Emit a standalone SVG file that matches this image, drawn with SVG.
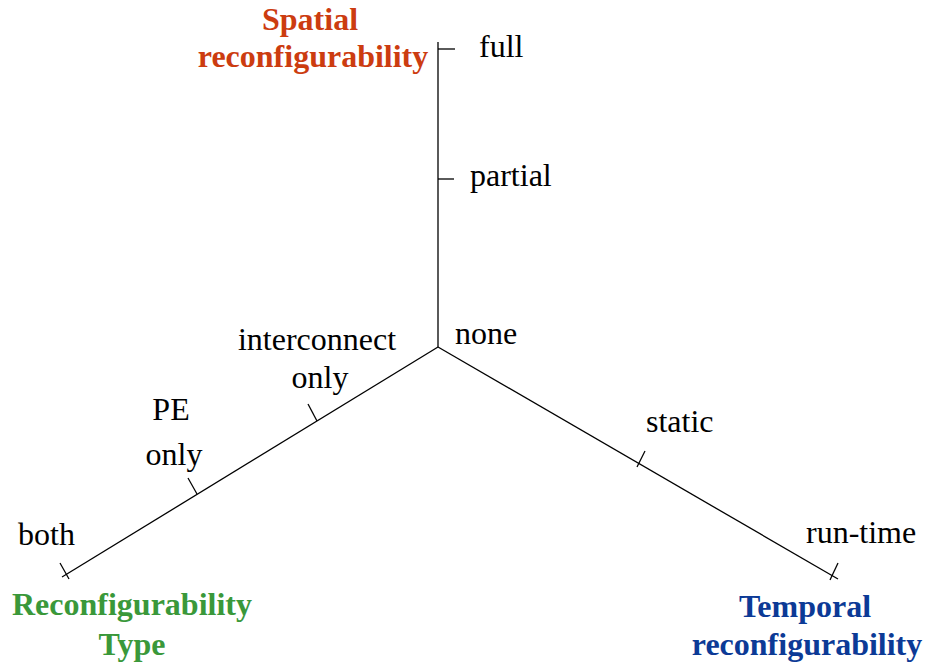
<svg xmlns="http://www.w3.org/2000/svg" width="925" height="664" viewBox="0 0 925 664">
  <style>
    .axis { stroke: #000; stroke-width: 1.3; fill: none; }
    text { font-family: 'Liberation Serif', 'Times New Roman', Times, 'DejaVu Serif', serif; font-size: 32px; }
    .lbl { fill: #000; }
    .title { font-weight: bold; text-anchor: middle; }
    .red { fill: #cc3c10; }
    .green { fill: #3a983a; }
    .blue { fill: #0c3a96; }
    .mid { text-anchor: middle; }
  </style>
  <rect width="925" height="664" fill="#fff"/>

  <!-- axes and tick marks -->
  <g id="connectors">
    <line class="axis" x1="438" y1="347" x2="438" y2="42"/>
    <line class="axis" x1="438" y1="347" x2="62" y2="577"/>
    <line class="axis" x1="438" y1="347" x2="838" y2="579"/>
    <!-- spatial ticks -->
    <line class="axis" x1="438" y1="49" x2="455" y2="49"/>
    <line class="axis" x1="438" y1="179" x2="454" y2="179"/>
    <!-- type ticks -->
    <line class="axis" x1="317" y1="421" x2="308" y2="404"/>
    <line class="axis" x1="197" y1="494" x2="188" y2="478"/>
    <line class="axis" x1="69" y1="579" x2="60" y2="563"/>
    <!-- temporal ticks -->
    <line class="axis" x1="637" y1="467" x2="645" y2="451"/>
    <line class="axis" x1="830" y1="580" x2="838" y2="563"/>
  </g>

  <g id="spatial-axis">
    <text class="title red" x="310" y="30">Spatial</text>
    <text class="title red" x="313" y="67">reconfigurability</text>
    <text class="lbl" x="479" y="57">full</text>
    <text class="lbl" x="470" y="186">partial</text>
  </g>

  <g id="origin">
    <text class="lbl" x="455" y="344">none</text>
  </g>

  <g id="type-axis">
    <text class="lbl mid" x="317" y="350">interconnect</text>
    <text class="lbl mid" x="320" y="388">only</text>
    <text class="lbl mid" x="171" y="420">PE</text>
    <text class="lbl mid" x="174" y="465">only</text>
    <text class="lbl" x="18" y="545">both</text>
    <text class="title green" x="132" y="615">Reconfigurability</text>
    <text class="title green" x="132" y="655">Type</text>
  </g>

  <g id="temporal-axis">
    <text class="lbl" x="646" y="432">static</text>
    <text class="lbl" x="806" y="543">run-time</text>
    <text class="title blue" x="805" y="617">Temporal</text>
    <text class="title blue" x="807" y="655">reconfigurability</text>
  </g>
</svg>
